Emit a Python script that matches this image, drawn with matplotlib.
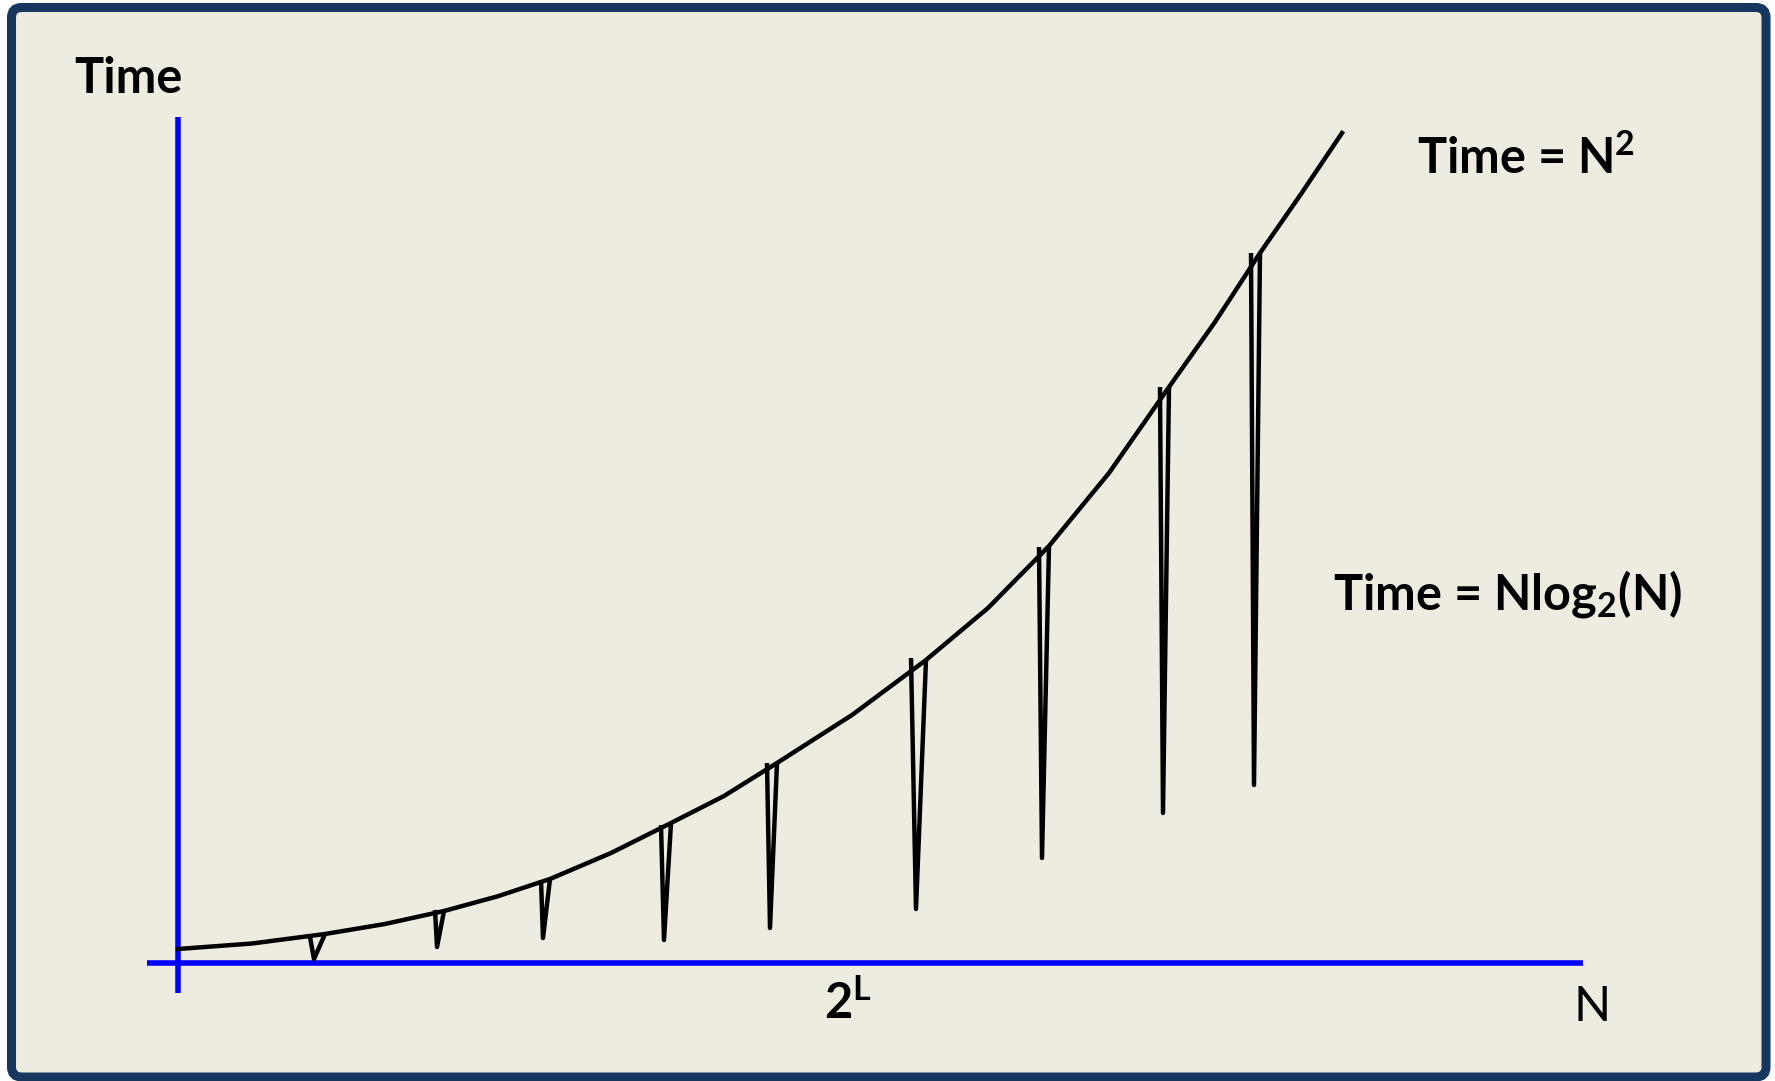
import matplotlib
matplotlib.use('Agg')
import matplotlib.pyplot as plt
from matplotlib.patches import FancyBboxPatch

plt.rcParams['font.family'] = ['Lato', 'DejaVu Sans']
plt.rcParams['font.weight'] = 'bold'
plt.rcParams['mathtext.default'] = 'regular'

# N^2 curve (N units, time units)
curve_n = [0, 0.74, 1.47, 2.07, 2.66, 3.19, 3.72, 4.33, 4.93, 5.46, 5.99,
           6.74, 7.48, 8.10, 8.71, 9.31, 9.91, 10.37, 10.82, 11.23, 11.64]
curve_time = [0.14, 0.195, 0.29, 0.39, 0.52, 0.665, 0.84, 1.10, 1.40, 1.67, 2.00,
              2.48, 3.03, 3.55, 4.17, 4.90, 5.76, 6.41, 7.10, 7.69, 8.30]

# drops at N = 2^L
spike_left_n = [1.32, 2.57, 3.63, 4.83, 5.89, 7.33, 8.61, 9.82, 10.73]
spike_low_n = [1.36, 2.59, 3.65, 4.86, 5.92, 7.38, 8.64, 9.85, 10.76]
spike_right_n = [1.47, 2.66, 3.72, 4.93, 5.99, 7.48, 8.71, 9.91, 10.82]
spike_top_left = [0.26, 0.53, 0.83, 1.38, 2.00, 3.05, 4.16, 5.76, 7.10]
spike_top_right = [0.29, 0.52, 0.84, 1.40, 2.00, 3.03, 4.17, 5.76, 7.10]
spike_low_time = [0.04, 0.16, 0.25, 0.23, 0.35, 0.54, 1.05, 1.50, 1.78]

fig = plt.figure(figsize=(17.75, 10.81), dpi=100, facecolor='white')
ax = fig.add_axes([0, 0, 1, 1])
ax.set_xlim(-1.78, 15.97)
ax.set_ylim(-1.18, 9.63)
ax.axis('off')

frame = FancyBboxPatch((-1.665, -1.14), 17.545, 10.695,
                       boxstyle='round,pad=0,rounding_size=0.1',
                       facecolor='#EEECE1', edgecolor='#17375E', lw=6.5, zorder=0)
ax.add_patch(frame)

# axes lines
ax.plot([0, 0], [-0.30, 8.46], color='#0000FF', lw=4, solid_capstyle='butt', zorder=1)
ax.plot([-0.31, 14.05], [0, 0], color='#0000FF', lw=4, solid_capstyle='butt', zorder=1)

ax.plot(curve_n, curve_time, color='black', lw=3.2, solid_joinstyle='round', zorder=3)
for i in range(len(spike_low_n)):
    ax.plot([spike_left_n[i], spike_low_n[i], spike_right_n[i]],
            [spike_top_left[i], spike_low_time[i], spike_top_right[i]],
            color='black', lw=3.2, solid_joinstyle='round', solid_capstyle='butt', zorder=3)

fs = 35
ax.text(-1.04, 8.70, 'Time', fontsize=fs, ha='left', va='baseline')
ax.text(12.39, 7.89, 'Time = N$^2$', fontsize=fs, ha='left', va='baseline')
ax.text(11.55, 3.54, 'Time = Nlog$_2$(N)', fontsize=fs, ha='left', va='baseline')
ax.text(6.46, -0.56, '2$^L$', fontsize=fs, ha='left', va='baseline')
ax.text(13.95, -0.58, 'N', fontsize=fs, ha='left', va='baseline', fontweight='normal')

fig.savefig('out.png', dpi=100, facecolor='white')
